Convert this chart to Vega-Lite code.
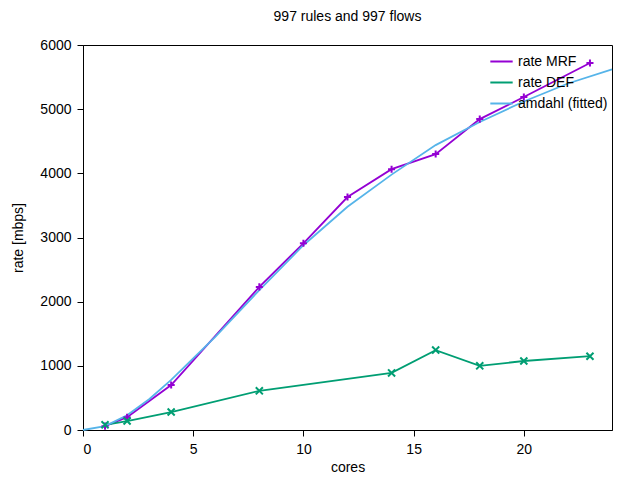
{
  "$schema": "https://vega.github.io/schema/vega-lite/v6.json",
  "autosize": "none",
  "padding": {"left": 83, "top": 45, "right": 28, "bottom": 50},
  "width": 529,
  "height": 385,
  "background": "white",
  "title": {"text": "997 rules and 997 flows", "fontWeight": "normal", "fontSize": 14, "font": "Liberation Sans", "offset": 14},
  "config": {
    "view": {"stroke": "black", "strokeWidth": 1},
    "axis": {"grid": false, "labelFont": "Liberation Sans", "titleFont": "Liberation Sans", "labelFontSize": 14, "titleFontSize": 14, "titleFontWeight": "normal", "labelColor": "black", "titleColor": "black", "domainColor": "black", "tickColor": "black"}
  },
  "data": {"values": [
    {"core": 1, "rate": 60, "series": "rate MRF"},
    {"core": 2, "rate": 200, "series": "rate MRF"},
    {"core": 4, "rate": 700, "series": "rate MRF"},
    {"core": 8, "rate": 2230, "series": "rate MRF"},
    {"core": 10, "rate": 2910, "series": "rate MRF"},
    {"core": 12, "rate": 3630, "series": "rate MRF"},
    {"core": 14, "rate": 4065, "series": "rate MRF"},
    {"core": 16, "rate": 4300, "series": "rate MRF"},
    {"core": 18, "rate": 4845, "series": "rate MRF"},
    {"core": 20, "rate": 5190, "series": "rate MRF"},
    {"core": 23, "rate": 5720, "series": "rate MRF"},
    {"core": 1, "rate": 80, "series": "rate DEF"},
    {"core": 2, "rate": 140, "series": "rate DEF"},
    {"core": 4, "rate": 280, "series": "rate DEF"},
    {"core": 8, "rate": 610, "series": "rate DEF"},
    {"core": 14, "rate": 890, "series": "rate DEF"},
    {"core": 16, "rate": 1245, "series": "rate DEF"},
    {"core": 18, "rate": 1000, "series": "rate DEF"},
    {"core": 20, "rate": 1075, "series": "rate DEF"},
    {"core": 23, "rate": 1150, "series": "rate DEF"},
    {"core": 0, "rate": 0, "series": "amdahl (fitted)"},
    {"core": 1, "rate": 60, "series": "amdahl (fitted)"},
    {"core": 2, "rate": 230, "series": "amdahl (fitted)"},
    {"core": 3, "rate": 480, "series": "amdahl (fitted)"},
    {"core": 4, "rate": 780, "series": "amdahl (fitted)"},
    {"core": 6, "rate": 1450, "series": "amdahl (fitted)"},
    {"core": 8, "rate": 2180, "series": "amdahl (fitted)"},
    {"core": 10, "rate": 2880, "series": "amdahl (fitted)"},
    {"core": 12, "rate": 3480, "series": "amdahl (fitted)"},
    {"core": 14, "rate": 3980, "series": "amdahl (fitted)"},
    {"core": 16, "rate": 4440, "series": "amdahl (fitted)"},
    {"core": 18, "rate": 4800, "series": "amdahl (fitted)"},
    {"core": 20, "rate": 5120, "series": "amdahl (fitted)"},
    {"core": 22, "rate": 5400, "series": "amdahl (fitted)"},
    {"core": 24, "rate": 5620, "series": "amdahl (fitted)"}
  ]},
  "encoding": {
    "x": {"field": "core", "type": "quantitative", "title": "cores", "scale": {"domain": [0, 24], "nice": false}, "axis": {"values": [0, 5, 10, 15, 20], "tickSize": 6, "labelPadding": 6}},
    "y": {"field": "rate", "type": "quantitative", "title": "rate [mbps]", "scale": {"domain": [0, 6000], "nice": false}, "axis": {"values": [0, 1000, 2000, 3000, 4000, 5000, 6000], "format": "d", "tickSize": 6, "labelPadding": 6, "titlePadding": 14}},
    "color": {"field": "series", "type": "nominal", "scale": {"domain": ["rate MRF", "rate DEF", "amdahl (fitted)"], "range": ["#9400d3", "#009e73", "#56b4e9"]},
      "legend": {"title": null, "orient": "top-right", "symbolType": "stroke", "symbolSize": 500, "symbolStrokeWidth": 2, "labelFont": "Liberation Sans", "labelFontSize": 14, "labelColor": "black", "rowPadding": 1, "offset": 4, "padding": 0}}
  },
  "layer": [
    {"mark": {"type": "line", "strokeWidth": 1.8}},
    {"transform": [{"filter": "datum.series != 'amdahl (fitted)'"}],
      "mark": {"type": "point", "filled": false, "size": 50, "strokeWidth": 2, "opacity": 1},
      "encoding": {"shape": {"field": "series", "type": "nominal", "legend": null,
        "scale": {"domain": ["rate MRF", "rate DEF"], "range": ["M-1,0H1M0,-1V1", "M-1,-1L1,1M-1,1L1,-1"]}}}}
  ]
}
